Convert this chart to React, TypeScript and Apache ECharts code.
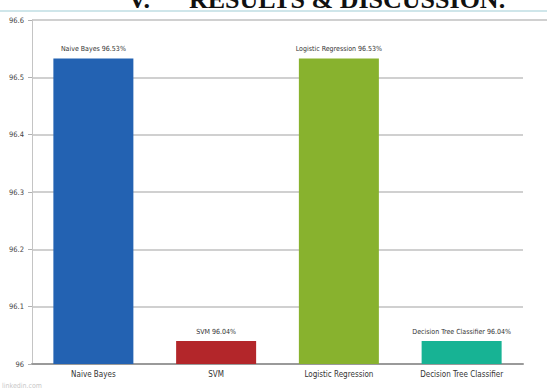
import React, { useEffect, useRef } from "react";
import * as echarts from "echarts";

const categories = ["Naive Bayes", "SVM", "Logistic Regression", "Decision Tree Classifier"];
const accuracy = [96.533, 96.04, 96.533, 96.04];
const barColors = ["#2362b2", "#b3262a", "#88b22e", "#17b394"];
const yMin = 96;
const yMax = 96.6;
const yStep = 0.1;

export default function App() {
  const ref = useRef<HTMLDivElement>(null);
  useEffect(() => {
    if (!ref.current) return;
    const chart = echarts.init(ref.current, null, { renderer: "svg" });
    const font = "'DejaVu Sans Condensed', 'Liberation Sans Narrow', 'Liberation Sans', sans-serif";
    chart.setOption({
      animation: false,
      backgroundColor: "#ffffff",
      grid: { left: 32, right: 24, top: 20, bottom: 28, containLabel: false },
      graphic: [
        {
          type: "text",
          left: 128,
          top: -14,
          style: {
            text: "V.      RESULTS & DISCUSSION.",
            fontFamily: "'Liberation Serif', serif",
            fontSize: 26,
            fontWeight: "bold",
            fill: "#111",
          },
        },
        {
          type: "line",
          shape: { x1: 0, y1: 11, x2: 547, y2: 11 },
          style: { stroke: "#cfe6ea", lineWidth: 2 },
        },
        {
          type: "line",
          shape: { x1: 523, y1: 20, x2: 547, y2: 20 },
          style: { stroke: "#c0c0c0", lineWidth: 1.5 },
        },
        {
          type: "text",
          left: 2,
          top: 382,
          style: { text: "linkedin.com", fontSize: 7, fill: "#c8c8c8", fontFamily: font },
        },
      ],
      xAxis: {
        type: "category",
        data: categories,
        axisLine: { show: true, lineStyle: { color: "#9a9a9a", width: 2 } },
        axisTick: { show: false },
        axisLabel: { color: "#333", fontSize: 8, fontFamily: font, margin: 6, interval: 0 },
      },
      yAxis: {
        type: "value",
        min: yMin,
        max: yMax,
        interval: yStep,
        axisLine: { show: true, lineStyle: { color: "#c4c4c4", width: 1 } },
        axisTick: { show: true, length: 4, lineStyle: { color: "#b0b0b0" } },
        axisLabel: { color: "#444", fontSize: 7.5, fontFamily: font, margin: 8 },
        splitLine: { show: true, lineStyle: { color: "#c0c0c0", width: 1.5 } },
      },
      series: [
        {
          type: "bar",
          barWidth: 80,
          data: accuracy.map((v, i) => ({ value: v, itemStyle: { color: barColors[i] } })),
          label: {
            show: true,
            position: "top",
            distance: 6,
            color: "#333",
            fontSize: 7,
            fontFamily: font,
            formatter: (p: any) => `${p.name} ${p.value.toFixed(2)}%`,
          },
        },
      ],
    });
    return () => chart.dispose();
  }, []);
  return <div ref={ref} style={{ width: 547, height: 392, position: "absolute", left: 0, top: 0 }} />;
}
